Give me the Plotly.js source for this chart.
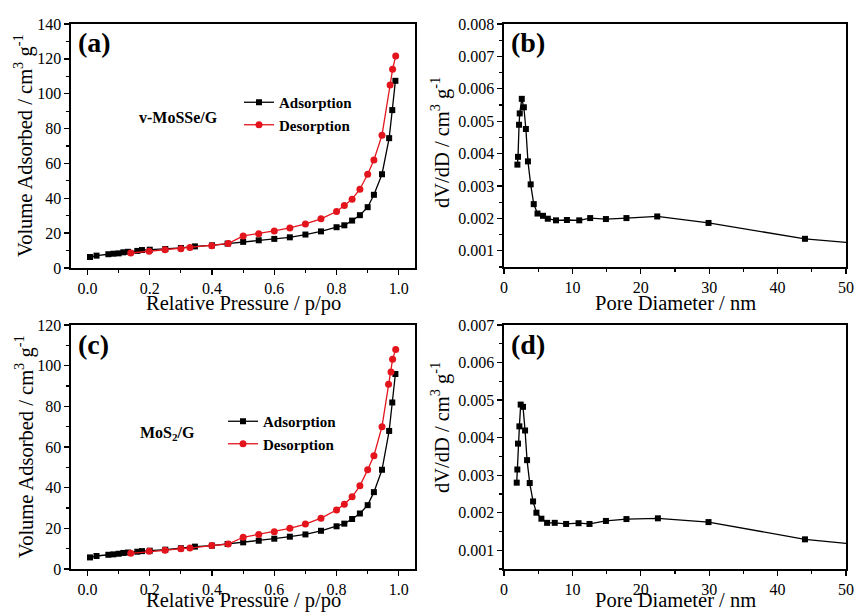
<!DOCTYPE html>
<html>
<head>
<meta charset="utf-8">
<script src="https://cdn.plot.ly/plotly-3.0.1.min.js"></script>
<style>html,body{margin:0;padding:0;background:#fff;}#chart{width:857px;height:613px;}</style>
</head>
<body>
<div id="chart"></div>
<script>
// N2 isotherm of v-MoSSe/G (a)
const isoA_adsP = [0.008, 0.029, 0.067, 0.083, 0.1, 0.115, 0.13, 0.16, 0.175, 0.2, 0.25, 0.3, 0.345, 0.4, 0.45, 0.5, 0.55, 0.6, 0.65, 0.7, 0.75, 0.8, 0.825, 0.85, 0.875, 0.9, 0.92, 0.946, 0.969, 0.979, 0.989];
const isoA_adsV = [6.3, 7.1, 7.9, 8.2, 8.4, 9.0, 9.3, 9.8, 10.3, 10.5, 10.9, 11.5, 12.4, 13.0, 14.0, 15.0, 15.9, 16.7, 17.6, 19.2, 21.0, 23.4, 24.5, 27.2, 30.3, 34.9, 42.0, 53.8, 74.5, 90.6, 107.4];
const isoA_desP = [0.139, 0.198, 0.249, 0.3, 0.329, 0.399, 0.452, 0.5, 0.55, 0.6, 0.65, 0.7, 0.75, 0.8, 0.825, 0.85, 0.875, 0.9, 0.92, 0.946, 0.972, 0.98, 0.99];
const isoA_desV = [8.6, 9.6, 10.5, 11.1, 11.7, 12.8, 14.0, 18.4, 19.7, 21.3, 23.0, 25.3, 28.2, 32.4, 35.8, 39.5, 45.2, 53.8, 62.0, 76.2, 105.0, 114.0, 121.6];

// Pore size distribution of v-MoSSe/G (b)
const psdB_D = [1.96, 2.05, 2.2, 2.3, 2.6, 2.9, 3.2, 3.5, 3.9, 4.35, 4.9, 5.7, 6.4, 7.6, 9.2, 11.0, 12.6, 14.9, 17.9, 22.4, 29.9, 44.0, 56.0];
const psdB_dV = [0.00366, 0.0039, 0.00489, 0.00524, 0.00569, 0.00543, 0.00476, 0.00376, 0.00305, 0.00244, 0.00215, 0.00208, 0.00199, 0.00194, 0.00195, 0.00194, 0.00201, 0.00198, 0.00201, 0.00206, 0.00186, 0.00137, 0.00115];

// N2 isotherm of MoS2/G (c)
const isoC_adsP = [0.008, 0.029, 0.067, 0.083, 0.1, 0.115, 0.13, 0.16, 0.175, 0.2, 0.25, 0.3, 0.345, 0.4, 0.45, 0.5, 0.55, 0.6, 0.65, 0.7, 0.75, 0.8, 0.825, 0.85, 0.875, 0.9, 0.92, 0.946, 0.969, 0.979, 0.989];
const isoC_adsV = [5.7, 6.4, 7.0, 7.2, 7.5, 7.9, 8.1, 8.5, 8.8, 9.0, 9.5, 10.2, 11.0, 11.5, 12.3, 13.1, 13.9, 14.9, 15.9, 17.0, 18.8, 21.0, 22.3, 24.6, 27.3, 31.4, 37.8, 48.8, 67.9, 81.9, 95.9];
const isoC_desP = [0.139, 0.198, 0.249, 0.3, 0.329, 0.399, 0.452, 0.5, 0.55, 0.6, 0.65, 0.7, 0.75, 0.8, 0.825, 0.85, 0.875, 0.9, 0.92, 0.946, 0.967, 0.975, 0.98, 0.99];
const isoC_desV = [7.7, 8.7, 9.2, 10.0, 10.3, 11.5, 12.3, 15.6, 17.0, 18.3, 20.0, 22.1, 25.0, 29.0, 31.9, 35.5, 40.9, 48.8, 55.7, 70.0, 90.9, 96.9, 103.1, 108.0];

// Pore size distribution of MoS2/G (d)
const psdD_D = [1.86, 1.95, 2.05, 2.25, 2.44, 2.78, 3.08, 3.37, 3.76, 4.25, 4.74, 5.47, 6.3, 7.42, 9.08, 10.9, 12.5, 14.9, 17.9, 22.5, 29.9, 44.0, 56.0];
const psdD_dV = [0.0028, 0.00315, 0.00384, 0.0043, 0.00488, 0.00482, 0.00419, 0.0034, 0.00279, 0.0023, 0.002, 0.00184, 0.00173, 0.00173, 0.0017, 0.00172, 0.0017, 0.00178, 0.00183, 0.00185, 0.00175, 0.00129, 0.00108];

const W = 857, H = 613;
const FONT = 'Liberation Serif, Times New Roman, serif';
const RED = '#e3141c';
const BLACK = '#000000';

// panel boxes in pixels: [left, right, top, bottom]
const boxes = {
  a: [71, 415, 24, 268],
  b: [504, 846, 24, 267],
  c: [71, 415, 325, 569],
  d: [504, 846, 325, 569]
};
const xd = b => [b[0] / W, b[1] / W];
const yd = b => [1 - b[3] / H, 1 - b[2] / H];

function minorTicks(dt) {
  return {ticks: 'outside', ticklen: 3, tickwidth: 1.2, tickcolor: BLACK, showgrid: false, dtick: dt};
}
function axisBase(extra) {
  return Object.assign({
    showline: true, linecolor: BLACK, linewidth: 1.6, mirror: true,
    ticks: 'outside', ticklen: 5, tickwidth: 1.3, tickcolor: BLACK,
    showgrid: false, zeroline: false,
    tickfont: {family: FONT, size: 16, color: BLACK}
  }, extra);
}

function adsTrace(x, y, xa, ya, lg) {
  return {x, y, xaxis: xa, yaxis: ya, type: 'scatter', mode: 'lines+markers', name: 'Adsorption',
    legend: lg, showlegend: true,
    line: {color: BLACK, width: 1.3}, marker: {symbol: 'square', size: 6, color: BLACK}};
}
function desTrace(x, y, xa, ya, lg) {
  return {x, y, xaxis: xa, yaxis: ya, type: 'scatter', mode: 'lines+markers', name: 'Desorption',
    legend: lg, showlegend: true,
    line: {color: RED, width: 1.3}, marker: {symbol: 'circle', size: 7, color: RED}};
}
function psdTrace(x, y, xa, ya) {
  return {x, y, xaxis: xa, yaxis: ya, type: 'scatter', mode: 'lines+markers', showlegend: false,
    line: {color: BLACK, width: 1.3}, marker: {symbol: 'square', size: 6, color: BLACK}};
}

const traces = [
  adsTrace(isoA_adsP, isoA_adsV, 'x', 'y', 'legend'),
  desTrace(isoA_desP, isoA_desV, 'x', 'y', 'legend'),
  psdTrace(psdB_D, psdB_dV, 'x2', 'y2'),
  adsTrace(isoC_adsP, isoC_adsV, 'x3', 'y3', 'legend2'),
  desTrace(isoC_desP, isoC_desV, 'x3', 'y3', 'legend2'),
  psdTrace(psdD_D, psdD_dV, 'x4', 'y4')
];

const isoX = (b, ya) => axisBase({anchor: ya, domain: xd(b), range: [-0.053, 1.052], dtick: 0.2, tick0: 0, tickformat: '.1f', minor: minorTicks(0.1)});
const psdX = (b, ya) => axisBase({anchor: ya, domain: xd(b), range: [0, 50], dtick: 10, tick0: 0, minor: minorTicks(5)});

const legendFont = {family: FONT, size: 15, color: BLACK, weight: 'bold'};

// text placed in paper space at pixel positions
function note(text, px, py, size, opts) {
  return Object.assign({text: text, x: px / W, y: 1 - py / H, xref: 'paper', yref: 'paper',
    xanchor: 'center', yanchor: 'middle', showarrow: false,
    font: {family: FONT, size: size, color: BLACK}}, opts || {});
}

const TITLE = 20.5;
const isoXTitle = 'Relative Pressure / p/po';
const isoYTitle = 'Volume Adsorbed / cm<sup>3</sup> g<sup>-1</sup>';
const psdXTitle = 'Pore Diameter / nm';
const psdYTitle = 'dV/dD / cm<sup>3</sup> g<sup>-1</sup>';

const layout = {
  width: W, height: H,
  margin: {l: 0, r: 0, t: 0, b: 0},
  paper_bgcolor: '#fff', plot_bgcolor: '#fff',
  font: {family: FONT, color: BLACK},
  xaxis: isoX(boxes.a, 'y'),
  yaxis: axisBase({anchor: 'x', domain: yd(boxes.a), range: [0, 140], dtick: 20, minor: minorTicks(10)}),
  xaxis2: psdX(boxes.b, 'y2'),
  yaxis2: axisBase({anchor: 'x2', domain: yd(boxes.b), range: [0.0005, 0.008], dtick: 0.001, tick0: 0, tickformat: '.3f', minor: minorTicks(0.0005)}),
  xaxis3: isoX(boxes.c, 'y3'),
  yaxis3: axisBase({anchor: 'x3', domain: yd(boxes.c), range: [0, 120], dtick: 20, minor: minorTicks(10)}),
  xaxis4: psdX(boxes.d, 'y4'),
  yaxis4: axisBase({anchor: 'x4', domain: yd(boxes.d), range: [0.0005, 0.007], dtick: 0.001, tick0: 0, tickformat: '.3f', minor: minorTicks(0.0005)}),
  legend: {x: 239 / W, y: 1 - 86 / H, xanchor: 'left', yanchor: 'top', bgcolor: 'rgba(0,0,0,0)', font: legendFont, tracegroupgap: 0},
  legend2: {x: 223 / W, y: 1 - 405 / H, xanchor: 'left', yanchor: 'top', bgcolor: 'rgba(0,0,0,0)', font: legendFont, tracegroupgap: 0},
  annotations: [
    note('<b>(a)</b>', 76, 43, 28, {xanchor: 'left'}),
    note('<b>(b)</b>', 509, 43, 28, {xanchor: 'left'}),
    note('<b>(c)</b>', 76, 344, 28, {xanchor: 'left'}),
    note('<b>(d)</b>', 509, 344, 28, {xanchor: 'left'}),
    note('<b>v-MoSSe/G</b>', 178, 117, 16),
    note('<b>MoS<sub>2</sub>/G</b>', 167, 433, 16),
    // axis titles
    note(isoXTitle, 243, 303, TITLE),
    note(psdXTitle, 675, 303, TITLE),
    note(isoXTitle, 243, 600, TITLE),
    note(psdXTitle, 675, 600, TITLE),
    note(isoYTitle, 24, 146, TITLE, {textangle: -90}),
    note(psdYTitle, 440, 143, TITLE, {textangle: -90}),
    note(isoYTitle, 24, 447, TITLE, {textangle: -90}),
    note(psdYTitle, 440, 428, TITLE, {textangle: -90})
  ]
};

Plotly.newPlot('chart', traces, layout, {staticPlot: true, displayModeBar: false});
</script>
</body>
</html>
